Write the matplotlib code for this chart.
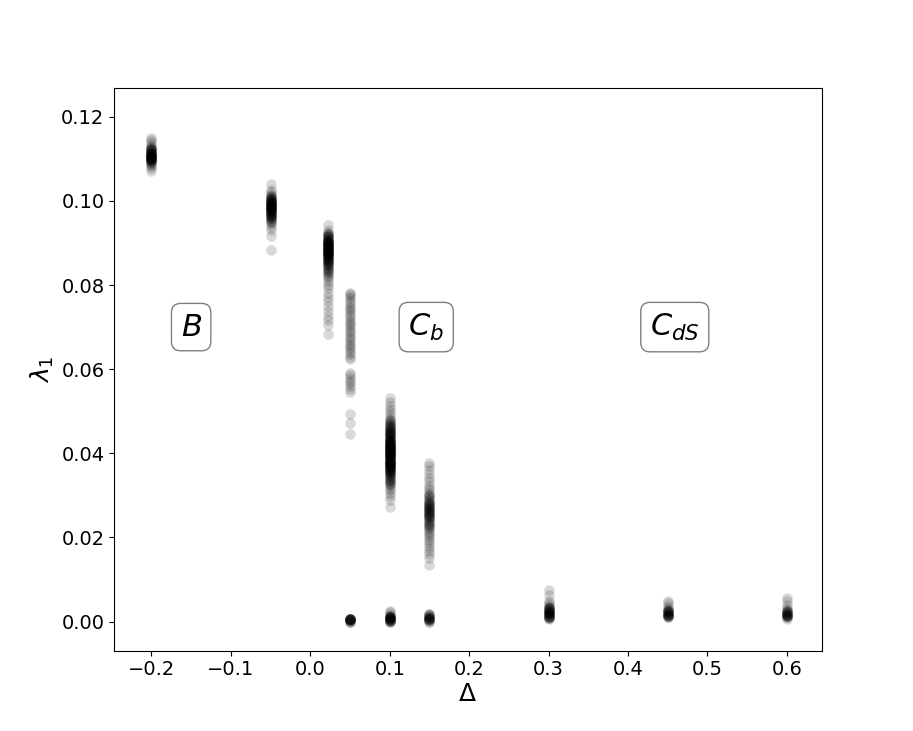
#!/usr/bin/env python

import matplotlib
matplotlib.use("Agg")
import matplotlib.pyplot as plt
import numpy as np

"""
Leading Lyapunov exponent lambda_1 versus Delta, one column of runs per Delta
"""

y_m020 = [0.1071, 0.1078, 0.1084, 0.1088, 0.1092, 0.1096, 0.1100, 0.1105, 0.1110,
          0.1115, 0.1120, 0.1124, 0.1128, 0.1133, 0.1139, 0.1144, 0.1149]
n_m020 = [1, 1, 1, 2, 3, 4, 6, 7, 7, 6, 4, 3, 2, 1, 1, 1, 1]

y_m005 = [0.0884, 0.0917, 0.0930, 0.0938, 0.0945, 0.0950, 0.0955, 0.0960, 0.0965,
          0.0970, 0.0975, 0.0980, 0.0985, 0.0990, 0.0995, 0.1000, 0.1005, 0.1010,
          0.1015, 0.1020, 0.1027, 0.1040]
n_m005 = [1, 1, 1, 1, 1, 2, 2, 3, 4, 5, 6, 6, 6, 6, 6, 5, 4, 3, 2, 1, 1, 1]

y_p002 = [0.0684, 0.0705, 0.0716, 0.0727, 0.0738, 0.0750, 0.0762, 0.0772, 0.0782,
          0.0792, 0.0800, 0.0808, 0.0815, 0.0822, 0.0828, 0.0833, 0.0838, 0.0843,
          0.0848, 0.0853, 0.0858, 0.0863, 0.0868, 0.0873, 0.0878, 0.0883, 0.0888,
          0.0893, 0.0898, 0.0903, 0.0908, 0.0913, 0.0918, 0.0923, 0.0930, 0.0943]
n_p002 = [1, 1, 1, 1, 1, 1, 1, 1, 1, 1, 1, 1, 1, 2, 2, 2, 2, 2,
          3, 3, 4, 5, 6, 6, 6, 6, 6, 6, 6, 6, 5, 4, 3, 2, 1, 1]

y_p005 = [0.0000, 0.0003, 0.0005, 0.0007,
          0.0447, 0.0471, 0.0494, 0.0545, 0.0552, 0.0559, 0.0566, 0.0573, 0.0580,
          0.0586, 0.0592, 0.0625, 0.0630, 0.0636, 0.0641, 0.0647, 0.0652, 0.0658,
          0.0663, 0.0669, 0.0674, 0.0680, 0.0685, 0.0691, 0.0696, 0.0702, 0.0707,
          0.0713, 0.0718, 0.0724, 0.0729, 0.0735, 0.0740, 0.0746, 0.0751, 0.0757,
          0.0762, 0.0768, 0.0773, 0.0778, 0.0781]
n_p005 = [3, 5, 5, 3,
          1, 1, 1, 1, 1, 1, 1, 1, 1, 1, 1, 1, 1, 1, 1, 1, 1, 1,
          1, 1, 1, 1, 1, 1, 1, 1, 1, 1, 1, 1, 1, 1, 1, 1, 1, 1,
          1, 1, 1, 1, 1]

y_p010 = [0.0000, 0.0002, 0.0004, 0.0006, 0.0008, 0.0010, 0.0012, 0.0014, 0.0018,
          0.0022, 0.0026,
          0.0272, 0.0290, 0.0298, 0.0305, 0.0312, 0.0318, 0.0324, 0.0330, 0.0335,
          0.0340, 0.0345, 0.0350, 0.0355, 0.0360, 0.0365, 0.0370, 0.0375, 0.0380,
          0.0385, 0.0390, 0.0395, 0.0400, 0.0405, 0.0410, 0.0415, 0.0420, 0.0425,
          0.0430, 0.0435, 0.0440, 0.0445, 0.0450, 0.0455, 0.0460, 0.0465, 0.0470,
          0.0475, 0.0480, 0.0485, 0.0490, 0.0497, 0.0505, 0.0513, 0.0522, 0.0532]
n_p010 = [2, 3, 3, 3, 3, 3, 2, 2, 1, 1, 1,
          1, 1, 1, 1, 1, 1, 2, 2, 2, 3, 3, 3, 4, 4, 5, 5, 6, 6, 6, 6, 6, 6, 6,
          6, 6, 6, 5, 5, 5, 4, 4, 4, 3, 3, 3, 2, 2, 2, 1, 1, 1, 1, 1, 1, 1]

y_p015 = [0.0000, 0.0003, 0.0006, 0.0009, 0.0012, 0.0015, 0.0019,
          0.0135, 0.0152, 0.0160, 0.0168, 0.0175, 0.0182, 0.0188, 0.0194, 0.0200,
          0.0205, 0.0210, 0.0215, 0.0220, 0.0225, 0.0230, 0.0235, 0.0240, 0.0245,
          0.0250, 0.0255, 0.0260, 0.0265, 0.0270, 0.0275, 0.0280, 0.0285, 0.0290,
          0.0295, 0.0300, 0.0306, 0.0312, 0.0318, 0.0325, 0.0333, 0.0341, 0.0350,
          0.0360, 0.0370, 0.0378]
n_p015 = [2, 3, 3, 3, 3, 2, 2,
          1, 1, 1, 1, 1, 1, 1, 1, 1, 1, 1, 1, 1, 2, 2, 2, 2, 3,
          3, 3, 3, 3, 3, 3, 3, 2, 2, 2, 2, 1, 1, 1, 1, 1, 1, 1, 1, 1, 1]

y_p030 = [0.0005, 0.0008, 0.0011, 0.0014, 0.0017, 0.0020, 0.0023, 0.0026, 0.0029,
          0.0032, 0.0035, 0.0039, 0.0043, 0.0050, 0.0062, 0.0075]
n_p030 = [1, 2, 3, 3, 3, 3, 3, 3, 3, 2, 2, 1, 1, 1, 1, 1]

y_p045 = [0.0010, 0.0013, 0.0016, 0.0019, 0.0022, 0.0025, 0.0028, 0.0032, 0.0038,
          0.0044, 0.0049]
n_p045 = [2, 3, 3, 3, 3, 3, 2, 1, 1, 1, 1]

y_p060 = [0.0007, 0.0010, 0.0013, 0.0016, 0.0019, 0.0022, 0.0025, 0.0028, 0.0033,
          0.0040, 0.0048, 0.0056]
n_p060 = [1, 2, 3, 3, 3, 3, 2, 1, 1, 1, 1, 1]

deltas = [-0.2, -0.05, 0.022, 0.05, 0.1, 0.15, 0.3, 0.45, 0.6]
columns = [(y_m020, n_m020), (y_m005, n_m005), (y_p002, n_p002), (y_p005, n_p005),
           (y_p010, n_p010), (y_p015, n_p015), (y_p030, n_p030), (y_p045, n_p045),
           (y_p060, n_p060)]

phase_labels = [r"$B$", r"$C_b$", r"$C_{dS}$"]
phase_x = [-0.15, 0.146, 0.459]
phase_y = [0.07, 0.07, 0.07]


def main():
    fig, ax = plt.subplots(figsize=(9.13, 7.31), dpi=100)

    for d, (ys, ns) in zip(deltas, columns):
        lam = np.repeat(ys, ns)
        ax.scatter(np.full(len(lam), d), lam, s=58, color="black", alpha=0.15,
                   linewidths=0)

    props = dict(boxstyle="round", facecolor="white", alpha=0.5)
    for lab, xx, yy in zip(phase_labels, phase_x, phase_y):
        ax.text(xx, yy, lab, fontsize=22, ha="center", va="center", bbox=props)

    ax.set_xlim(-0.247, 0.644)
    ax.set_ylim(-0.0069, 0.1269)
    ax.set_xlabel(r"$\Delta$", fontsize=18, labelpad=2)
    ax.set_ylabel(r"$\lambda_1$", fontsize=18)
    ax.tick_params(labelsize=14)

    plt.savefig("out.png", dpi=100)


if __name__ == "__main__":
    main()
